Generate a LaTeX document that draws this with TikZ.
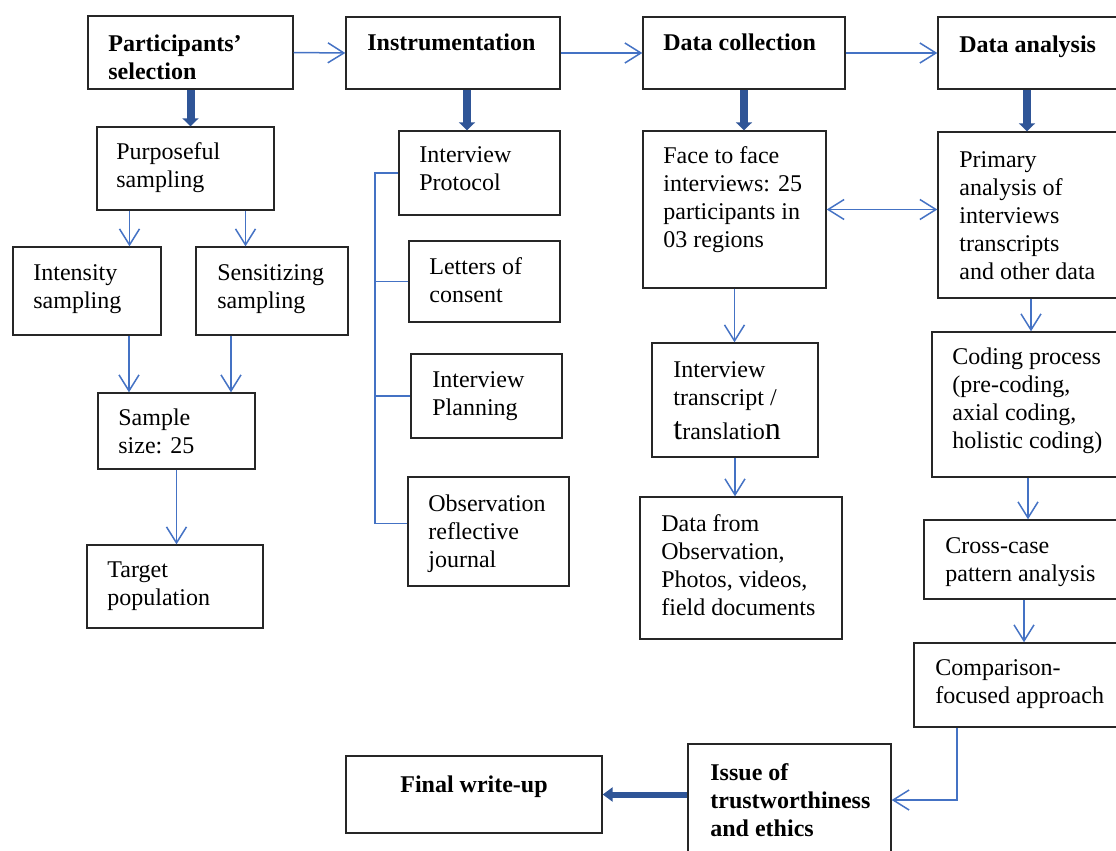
\documentclass[tikz,border=0pt]{standalone}
\usepackage{fontspec}
\setmainfont{Liberation Serif}
\usetikzlibrary{arrows.meta,fit}
\definecolor{linkblue}{RGB}{68,114,196}
\definecolor{blockblue}{RGB}{47,85,151}

\begin{document}
\begin{tikzpicture}[x=0.5pt,y=-0.5pt,
        box/.style={draw=black!85,line width=0.7pt,inner sep=0pt},
        txt/.style={anchor=north west,inner sep=0pt,align=left,font=\fontsize{12}{14}\selectfont},
        head/.style={txt,font=\fontsize{12}{14}\selectfont\bfseries},
        link/.style={linkblue,line width=0.75pt},
        conn/.style={link,-{Straight Barb[length=8pt,width=10pt]}},
        biconn/.style={link,{Straight Barb[length=8pt,width=10pt]}-{Straight Barb[length=8pt,width=10pt]}},
        bigarrow/.style={blockblue,line width=4pt,-{Triangle[length=4pt,width=8pt]}}]
        \useasboundingbox (0,0) rectangle (1116,851);
        % top row
        \node[box,fit={(88,16) (293,89)}] (psel) {};
        \node[head] at (108,34) {Participants’\\selection};
        \node[box,fit={(346,17) (560,89)}] (instr) {};
        \node[head] at (367,33) {Instrumentation};
        \node[box,fit={(643,17) (845,89)}] (dcoll) {};
        \node[head] at (663,33) {Data collection};
        \node[box,fit={(938,17) (1124,89)}] (danal) {};
        \node[head] at (959,35) {Data analysis};
        % participants
        \node[box,fit={(97,127) (274,210)}] (purp) {};
        \node[txt] at (116,142) {Purposeful\\sampling};
        \node[box,fit={(13,247) (161,335)}] (inten) {};
        \node[txt] at (33,264) {Intensity\\sampling};
        \node[box,fit={(196,247) (348,335)}] (sens) {};
        \node[txt] at (217,264) {Sensitizing\\sampling};
        \node[box,fit={(98,393) (255,469)}] (ssize) {};
        \node[txt] at (118,408) {Sample\\size: 25};
        \node[box,fit={(87,545) (263,628)}] (target) {};
        \node[txt] at (107,561) {Target\\population};
        % instrumentation
        \node[box,fit={(399,131) (560,215)}] (iprot) {};
        \node[txt] at (419,146) {Interview\\Protocol};
        \node[box,fit={(409,241) (560,322)}] (consent) {};
        \node[txt] at (429,257) {Letters of\\consent};
        \node[box,fit={(411,354) (562,438)}] (iplan) {};
        \node[txt] at (432,371) {Interview\\Planning};
        \node[box,fit={(408,477) (569,586)}] (journal) {};
        \node[txt] at (428,494) {Observation\\reflective\\journal};
        % data collection
        \node[box,fit={(643,131) (826,288)}] (face) {};
        \node[txt] at (663,146) {Face to face\\interviews: 25\\participants in\\03 regions};
        \node[box,fit={(652,343) (818,457)}] (trans) {};
        \node[txt] at (673,361) {Interview\\transcript /\\[3pt]{\fontsize{16}{14}\selectfont t}ranslatio{\fontsize{16}{14}\selectfont n}};
        \node[box,fit={(640,497) (842,639)}] (dfrom) {};
        \node[txt] at (661,514) {Data from\\Observation,\\Photos, videos,\\field documents};
        % data analysis
        \node[box,fit={(938,132) (1124,298)}] (prim) {};
        \node[txt] at (959,151) {Primary\\analysis of\\interviews\\transcripts\\and other data};
        \node[box,fit={(932,332) (1124,477)}] (coding) {};
        \node[txt] at (952,347) {Coding process\\(pre-coding,\\axial coding,\\holistic coding)};
        \node[box,fit={(924,520) (1124,599)}] (cross) {};
        \node[txt] at (945,537) {Cross-case\\pattern analysis};
        \node[box,fit={(914,643) (1124,727)}] (compare) {};
        \node[txt] at (935,659) {Comparison-\\focused approach};
        % bottom row
        \node[box,fit={(346,756) (602,833)}] (final) {};
        \node[head,anchor=north] at (474,775) {Final write-up};
        \node[box,fit={(688,744) (891,856)}] (issue) {};
        \node[head] at (710,763) {Issue of\\trustworthiness\\and ethics};
        % connectors
        \draw[conn] (psel.east) -- (instr.west);
        \draw[conn] (instr.east) -- (dcoll.west);
        \draw[conn] (dcoll.east) -- (danal.west);
        \draw[bigarrow] (psel.south) -- (psel.south |- purp.north);
        \draw[bigarrow] ([xshift=7pt]instr.south) -- ([xshift=7pt]instr.south |- iprot.north);
        \draw[bigarrow] (dcoll.south) -- (dcoll.south |- face.north);
        \draw[bigarrow] ([xshift=-2pt]danal.south) -- ([xshift=-2pt]danal.south |- prim.north);
        \draw[conn] ([xshift=-28pt]purp.south) -- ([xshift=-28pt]purp.south |- inten.north);
        \draw[conn] ([xshift=30pt]purp.south) -- ([xshift=30pt]purp.south |- sens.north);
        \draw[conn] ([xshift=21pt]inten.south) -- ([xshift=21pt]inten.south |- ssize.north);
        \draw[conn] ([xshift=-20.5pt]sens.south) -- ([xshift=-20.5pt]sens.south |- ssize.north);
        \draw[conn] (ssize.south) -- (ssize.south |- target.north);
        % bracket of the instruments
        \coordinate (bus) at (375,0);
        \coordinate (jstub) at ([yshift=4pt]journal.west);
        \draw[link] (iprot.west) -- (iprot.west -| bus) -- (bus |- jstub) -- (jstub);
        \draw[link] (bus |- consent.west) -- (consent.west);
        \draw[link] (bus |- iplan.west) -- (iplan.west);
        \draw[conn] (face.south) -- (face.south |- trans.north);
        \draw[conn] (trans.south) -- (trans.south |- dfrom.north);
        \draw[biconn] (face.east) -- (face.east -| prim.west);
        \draw[conn] (prim.south) -- (prim.south |- coding.north);
        \draw[conn] (coding.south) -- (coding.south |- cross.north);
        \draw[conn] (cross.south) -- (cross.south |- compare.north);
        \draw[conn] ([xshift=-31pt]compare.south) |- (issue.east);
        \draw[bigarrow,line width=3pt,-{Triangle[length=5pt,width=7pt]}] (issue.west |- final.east) -- (final.east);
\end{tikzpicture}
\end{document}
